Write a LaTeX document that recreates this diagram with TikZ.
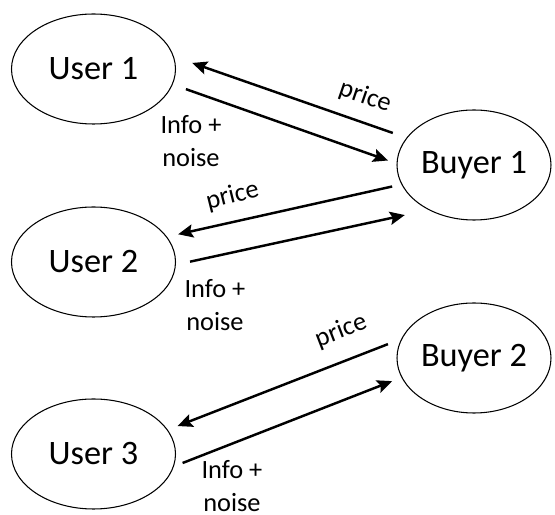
\documentclass[tikz,border=0pt]{standalone}
\usepackage{fontspec}
\setmainfont{Carlito}
\usetikzlibrary{arrows.meta,shapes.geometric}
\begin{document}
\begin{tikzpicture}[>={Stealth[length=8.5pt,width=7.5pt,inset=1.5pt]}]
\tikzstyle{ell}=[draw,ellipse,line width=0.6pt,inner sep=0pt,outer sep=0pt,minimum height=2.2cm,font=\fontsize{19.5}{23}\selectfont]
\tikzstyle{lab}=[align=center,font=\fontsize{15}{19}\selectfont,inner sep=0pt]
\tikzstyle{arr}=[->,line width=1.4pt]
\useasboundingbox (0,0) rectangle (11.1,10.3);
% users left, buyers right
\node[ell,minimum width=3.28cm] (user1) at (1.87,8.92) {User 1};
\node[ell,minimum width=3.28cm] (user2) at (1.87,5.06) {User 2};
\node[ell,minimum width=3.28cm] (user3) at (1.87,1.22) {User 3};
\node[ell,minimum width=3.08cm] (buyer1) at (9.48,7.00) {Buyer 1};
\node[ell,minimum width=3.08cm] (buyer2) at (9.48,3.14) {Buyer 2};
% price and info arrows
\draw[arr,shorten <=0.30cm,shorten >=0.40cm] (buyer1.158) -- (user1.9);
\draw[arr,shorten <=0.29cm,shorten >=0.19cm] (user1.-11) -- (buyer1.179);
\draw[arr,shorten <=0.20cm,shorten >=0.24cm] (buyer1.-165) -- (user2.19);
\draw[arr,shorten <=0.30cm,shorten >=0.50cm] (user2.-2) -- (buyer1.-135);
\draw[arr,shorten <=0.30cm,shorten >=0.22cm] (buyer2.165) -- (user3.18);
\draw[arr,shorten <=0.20cm,shorten >=0.21cm] (user3.-9) -- (buyer2.-165);
% labels
\node[lab,rotate=-19] (p1) at (7.30,8.36) {price};
\node[lab] (n1) at (3.82,7.48) {Info +\\noise};
\node[lab,rotate=14] (p2) at (4.65,6.38) {price};
\node[lab] (n2) at (4.30,4.20) {Info +\\noise};
\node[lab,rotate=21] (p3) at (6.82,3.68) {price};
\node[lab] (n3) at (4.64,0.58) {Info +\\noise};
\end{tikzpicture}
\end{document}
